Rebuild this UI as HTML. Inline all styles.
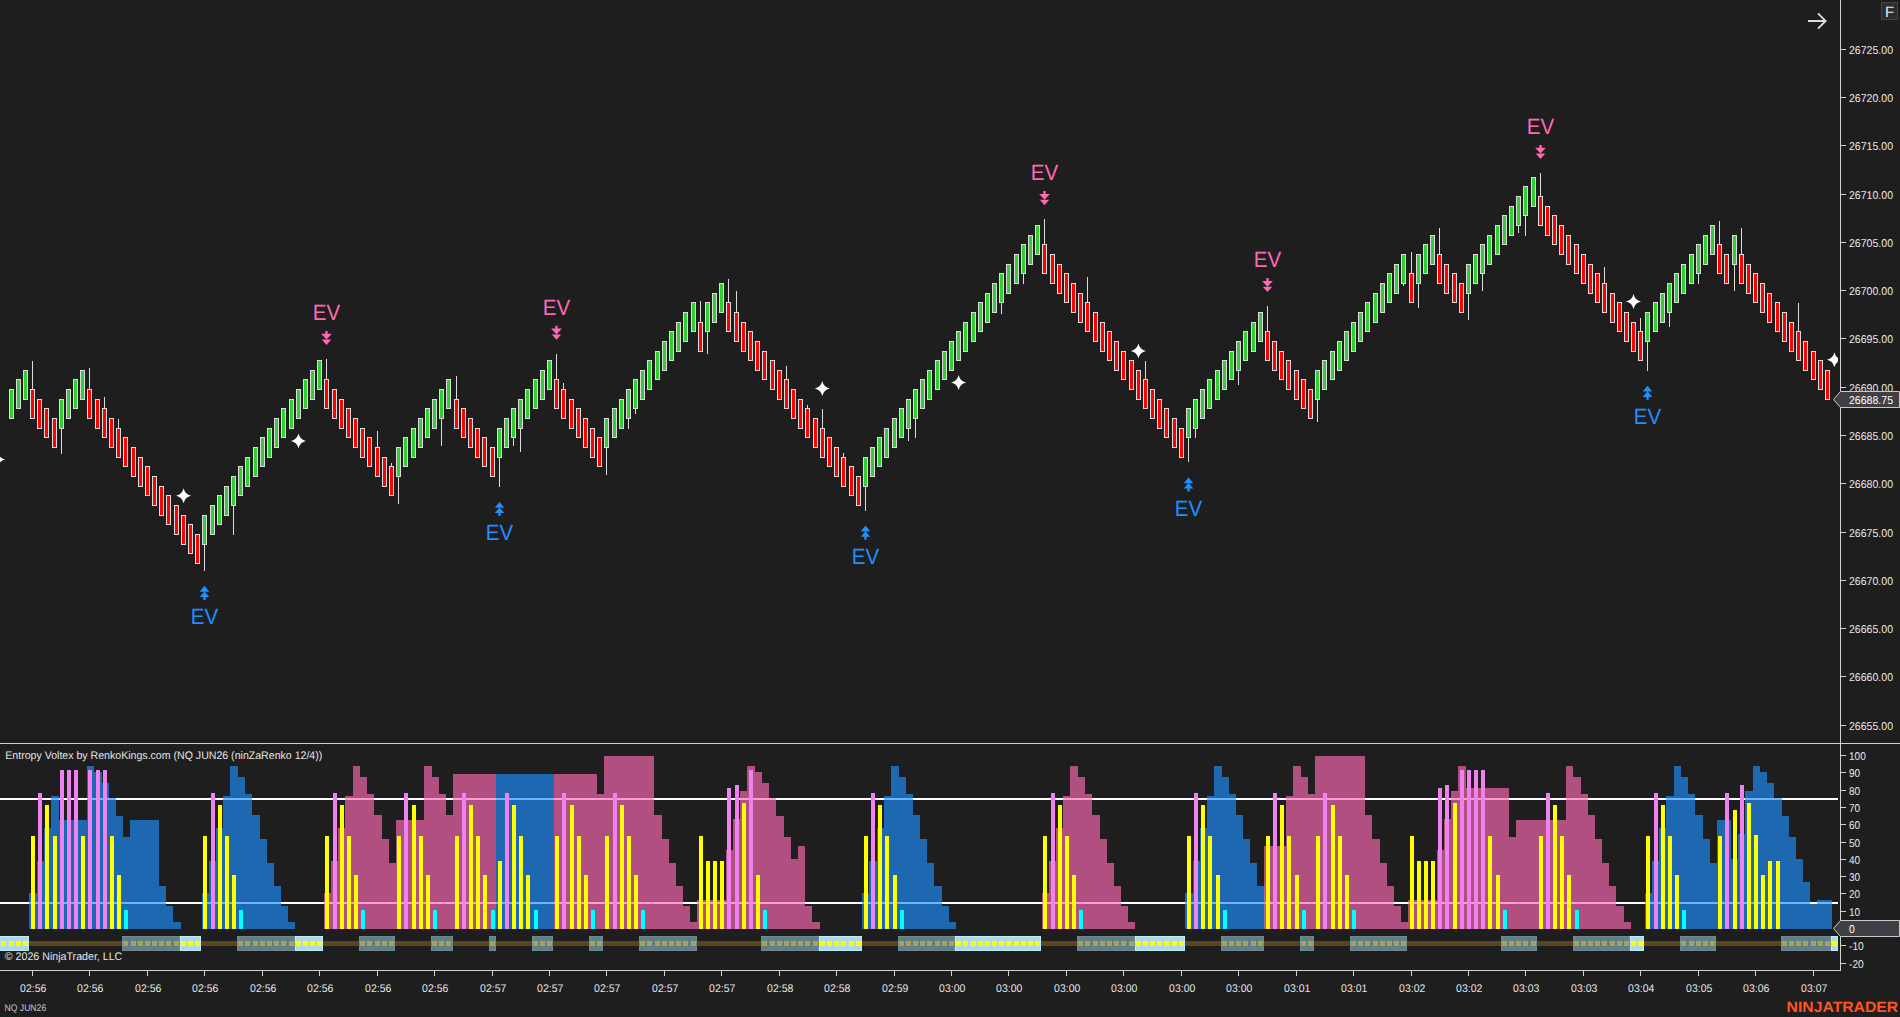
<!DOCTYPE html>
<html lang="en"><head><meta charset="utf-8"><title>NQ JUN26 - Entropy Voltex</title><style>html,body{margin:0;padding:0;background:#1e1e1e;overflow:hidden}svg{display:block}</style></head><body><svg width="1900" height="1017" viewBox="0 0 1900 1017" font-family='"Liberation Sans", sans-serif' shape-rendering="crispEdges" text-rendering="geometricPrecision"><rect x="0" y="0" width="1900" height="1017" fill="#1e1e1e"/>
<path d="M32 361h1v28h-1zM61 429h1v25h-1zM89 368h1v21h-1zM104 397h1v11h-1zM118 419h1v9h-1zM204 545h1v26h-1zM233 506h1v29h-1zM326 359h1v20h-1zM377 431h1v16h-1zM391 463h1v3h-1zM398 477h1v27h-1zM441 419h1v27h-1zM456 376h1v23h-1zM499 458h1v29h-1zM513 438h1v8h-1zM520 429h1v23h-1zM556 354h1v25h-1zM563 383h1v6h-1zM606 448h1v27h-1zM628 419h1v10h-1zM635 409h1v5h-1zM700 301h1v21h-1zM707 332h1v22h-1zM728 279h1v23h-1zM736 291h1v21h-1zM786 366h1v13h-1zM807 405h1v3h-1zM822 409h1v19h-1zM843 453h1v4h-1zM865 487h1v24h-1zM908 429h1v12h-1zM915 419h1v19h-1zM1001 303h1v11h-1zM1023 274h1v10h-1zM1044 219h1v25h-1zM1087 277h1v25h-1zM1145 361h1v18h-1zM1188 438h1v24h-1zM1195 429h1v9h-1zM1238 371h1v14h-1zM1267 306h1v25h-1zM1317 400h1v22h-1zM1403 284h1v2h-1zM1411 252h1v21h-1zM1418 284h1v24h-1zM1439 228h1v26h-1zM1468 294h1v26h-1zM1482 274h1v17h-1zM1518 226h1v7h-1zM1525 216h1v20h-1zM1540 173h1v23h-1zM1604 267h1v16h-1zM1640 318h1v13h-1zM1647 342h1v29h-1zM1669 313h1v14h-1zM1698 274h1v10h-1zM1719 221h1v23h-1zM1734 265h1v26h-1zM1741 228h1v26h-1zM1798 303h1v28h-1z" fill="#dcdcdc"/>
<path d="M9 389h5v30h-5zM16 379h5v30h-5zM23 370h5v30h-5zM30 389h5v30h-5zM37 399h5v30h-5zM44 408h5v30h-5zM52 418h5v30h-5zM59 399h5v30h-5zM66 389h5v30h-5zM73 379h5v30h-5zM80 370h5v30h-5zM87 389h5v30h-5zM95 399h5v30h-5zM102 408h5v30h-5zM109 418h5v30h-5zM116 428h5v30h-5zM123 437h5v30h-5zM131 447h5v30h-5zM138 457h5v30h-5zM145 466h5v30h-5zM152 476h5v30h-5zM159 486h5v30h-5zM166 495h5v30h-5zM174 505h5v30h-5zM181 515h5v30h-5zM188 524h5v30h-5zM195 534h5v30h-5zM202 515h5v30h-5zM210 505h5v30h-5zM217 495h5v30h-5zM224 486h5v30h-5zM231 476h5v30h-5zM238 466h5v30h-5zM245 457h5v30h-5zM253 447h5v30h-5zM260 437h5v30h-5zM267 428h5v30h-5zM274 418h5v30h-5zM281 408h5v30h-5zM289 399h5v30h-5zM296 389h5v30h-5zM303 379h5v30h-5zM310 370h5v30h-5zM317 360h5v30h-5zM324 379h5v30h-5zM332 389h5v30h-5zM339 399h5v30h-5zM346 408h5v30h-5zM353 418h5v30h-5zM360 428h5v30h-5zM367 437h5v30h-5zM375 447h5v30h-5zM382 457h5v30h-5zM389 466h5v30h-5zM396 447h5v30h-5zM403 437h5v30h-5zM411 428h5v30h-5zM418 418h5v30h-5zM425 408h5v30h-5zM432 399h5v30h-5zM439 389h5v30h-5zM446 379h5v30h-5zM454 399h5v30h-5zM461 408h5v30h-5zM468 418h5v30h-5zM475 428h5v30h-5zM482 437h5v30h-5zM490 447h5v30h-5zM497 428h5v30h-5zM504 418h5v30h-5zM511 408h5v30h-5zM518 399h5v30h-5zM525 389h5v30h-5zM533 379h5v30h-5zM540 370h5v30h-5zM547 360h5v30h-5zM554 379h5v30h-5zM561 389h5v30h-5zM569 399h5v30h-5zM576 408h5v30h-5zM583 418h5v30h-5zM590 428h5v30h-5zM597 437h5v30h-5zM604 418h5v30h-5zM612 408h5v30h-5zM619 399h5v30h-5zM626 389h5v30h-5zM633 379h5v30h-5zM640 370h5v30h-5zM647 360h5v30h-5zM655 351h5v29h-5zM662 341h5v30h-5zM669 331h5v30h-5zM676 322h5v30h-5zM683 312h5v30h-5zM691 302h5v30h-5zM698 322h5v30h-5zM705 302h5v30h-5zM712 293h5v30h-5zM719 283h5v30h-5zM726 302h5v30h-5zM734 312h5v30h-5zM741 322h5v30h-5zM748 331h5v30h-5zM755 341h5v30h-5zM762 351h5v29h-5zM770 360h5v30h-5zM777 370h5v30h-5zM784 379h5v30h-5zM791 389h5v30h-5zM798 399h5v30h-5zM805 408h5v30h-5zM813 418h5v30h-5zM820 428h5v30h-5zM827 437h5v30h-5zM834 447h5v30h-5zM841 457h5v30h-5zM849 466h5v30h-5zM856 476h5v30h-5zM863 457h5v30h-5zM870 447h5v30h-5zM877 437h5v30h-5zM884 428h5v30h-5zM892 418h5v30h-5zM899 408h5v30h-5zM906 399h5v30h-5zM913 389h5v30h-5zM920 379h5v30h-5zM927 370h5v30h-5zM935 360h5v30h-5zM942 351h5v29h-5zM949 341h5v30h-5zM956 331h5v30h-5zM963 322h5v30h-5zM971 312h5v30h-5zM978 302h5v30h-5zM985 293h5v30h-5zM992 283h5v30h-5zM999 273h5v30h-5zM1006 264h5v30h-5zM1014 254h5v30h-5zM1021 244h5v30h-5zM1028 235h5v30h-5zM1035 225h5v30h-5zM1042 244h5v30h-5zM1050 254h5v30h-5zM1057 264h5v30h-5zM1064 273h5v30h-5zM1071 283h5v30h-5zM1078 293h5v30h-5zM1085 302h5v30h-5zM1093 312h5v30h-5zM1100 322h5v30h-5zM1107 331h5v30h-5zM1114 341h5v30h-5zM1121 351h5v29h-5zM1129 360h5v30h-5zM1136 370h5v30h-5zM1143 379h5v30h-5zM1150 389h5v30h-5zM1157 399h5v30h-5zM1164 408h5v30h-5zM1172 418h5v30h-5zM1179 428h5v30h-5zM1186 408h5v30h-5zM1193 399h5v30h-5zM1200 389h5v30h-5zM1207 379h5v30h-5zM1215 370h5v30h-5zM1222 360h5v30h-5zM1229 351h5v29h-5zM1236 341h5v30h-5zM1243 331h5v30h-5zM1251 322h5v30h-5zM1258 312h5v30h-5zM1265 331h5v30h-5zM1272 341h5v30h-5zM1279 351h5v29h-5zM1286 360h5v30h-5zM1294 370h5v30h-5zM1301 379h5v30h-5zM1308 389h5v30h-5zM1315 370h5v30h-5zM1322 360h5v30h-5zM1330 351h5v29h-5zM1337 341h5v30h-5zM1344 331h5v30h-5zM1351 322h5v30h-5zM1358 312h5v30h-5zM1365 302h5v30h-5zM1373 293h5v30h-5zM1380 283h5v30h-5zM1387 273h5v30h-5zM1394 264h5v30h-5zM1401 254h5v30h-5zM1409 273h5v30h-5zM1416 254h5v30h-5zM1423 244h5v30h-5zM1430 235h5v30h-5zM1437 254h5v30h-5zM1444 264h5v30h-5zM1452 273h5v30h-5zM1459 283h5v30h-5zM1466 264h5v30h-5zM1473 254h5v30h-5zM1480 244h5v30h-5zM1487 235h5v30h-5zM1495 225h5v30h-5zM1502 215h5v30h-5zM1509 206h5v30h-5zM1516 196h5v30h-5zM1523 186h5v30h-5zM1531 177h5v30h-5zM1538 196h5v30h-5zM1545 206h5v30h-5zM1552 215h5v30h-5zM1559 225h5v30h-5zM1566 235h5v30h-5zM1574 244h5v30h-5zM1581 254h5v30h-5zM1588 264h5v30h-5zM1595 273h5v30h-5zM1602 283h5v30h-5zM1610 293h5v30h-5zM1617 302h5v30h-5zM1624 312h5v30h-5zM1631 322h5v30h-5zM1638 331h5v30h-5zM1645 312h5v30h-5zM1653 302h5v30h-5zM1660 293h5v30h-5zM1667 283h5v30h-5zM1674 273h5v30h-5zM1681 264h5v30h-5zM1689 254h5v30h-5zM1696 244h5v30h-5zM1703 235h5v30h-5zM1710 225h5v30h-5zM1717 244h5v30h-5zM1724 254h5v30h-5zM1732 235h5v30h-5zM1739 254h5v30h-5zM1746 264h5v30h-5zM1753 273h5v30h-5zM1760 283h5v30h-5zM1767 293h5v30h-5zM1775 302h5v30h-5zM1782 312h5v30h-5zM1789 322h5v30h-5zM1796 331h5v30h-5zM1803 341h5v30h-5zM1811 351h5v29h-5zM1818 360h5v30h-5zM1825 370h5v30h-5z" fill="#dcdcdc"/>
<path d="M10 390h3v28h-3zM17 380h3v28h-3zM24 371h3v28h-3zM60 400h3v28h-3zM67 390h3v28h-3zM74 380h3v28h-3zM81 371h3v28h-3zM203 516h3v28h-3zM211 506h3v28h-3zM218 496h3v28h-3zM225 487h3v28h-3zM232 477h3v28h-3zM239 467h3v28h-3zM246 458h3v28h-3zM254 448h3v28h-3zM261 438h3v28h-3zM268 429h3v28h-3zM275 419h3v28h-3zM282 409h3v28h-3zM290 400h3v28h-3zM297 390h3v28h-3zM304 380h3v28h-3zM311 371h3v28h-3zM318 361h3v28h-3zM397 448h3v28h-3zM404 438h3v28h-3zM412 429h3v28h-3zM419 419h3v28h-3zM426 409h3v28h-3zM433 400h3v28h-3zM440 390h3v28h-3zM447 380h3v28h-3zM498 429h3v28h-3zM505 419h3v28h-3zM512 409h3v28h-3zM519 400h3v28h-3zM526 390h3v28h-3zM534 380h3v28h-3zM541 371h3v28h-3zM548 361h3v28h-3zM605 419h3v28h-3zM613 409h3v28h-3zM620 400h3v28h-3zM627 390h3v28h-3zM634 380h3v28h-3zM641 371h3v28h-3zM648 361h3v28h-3zM656 352h3v27h-3zM663 342h3v28h-3zM670 332h3v28h-3zM677 323h3v28h-3zM684 313h3v28h-3zM692 303h3v28h-3zM706 303h3v28h-3zM713 294h3v28h-3zM720 284h3v28h-3zM864 458h3v28h-3zM871 448h3v28h-3zM878 438h3v28h-3zM885 429h3v28h-3zM893 419h3v28h-3zM900 409h3v28h-3zM907 400h3v28h-3zM914 390h3v28h-3zM921 380h3v28h-3zM928 371h3v28h-3zM936 361h3v28h-3zM943 352h3v27h-3zM950 342h3v28h-3zM957 332h3v28h-3zM964 323h3v28h-3zM972 313h3v28h-3zM979 303h3v28h-3zM986 294h3v28h-3zM993 284h3v28h-3zM1000 274h3v28h-3zM1007 265h3v28h-3zM1015 255h3v28h-3zM1022 245h3v28h-3zM1029 236h3v28h-3zM1036 226h3v28h-3zM1187 409h3v28h-3zM1194 400h3v28h-3zM1201 390h3v28h-3zM1208 380h3v28h-3zM1216 371h3v28h-3zM1223 361h3v28h-3zM1230 352h3v27h-3zM1237 342h3v28h-3zM1244 332h3v28h-3zM1252 323h3v28h-3zM1259 313h3v28h-3zM1316 371h3v28h-3zM1323 361h3v28h-3zM1331 352h3v27h-3zM1338 342h3v28h-3zM1345 332h3v28h-3zM1352 323h3v28h-3zM1359 313h3v28h-3zM1366 303h3v28h-3zM1374 294h3v28h-3zM1381 284h3v28h-3zM1388 274h3v28h-3zM1395 265h3v28h-3zM1402 255h3v28h-3zM1417 255h3v28h-3zM1424 245h3v28h-3zM1431 236h3v28h-3zM1467 265h3v28h-3zM1474 255h3v28h-3zM1481 245h3v28h-3zM1488 236h3v28h-3zM1496 226h3v28h-3zM1503 216h3v28h-3zM1510 207h3v28h-3zM1517 197h3v28h-3zM1524 187h3v28h-3zM1532 178h3v28h-3zM1646 313h3v28h-3zM1654 303h3v28h-3zM1661 294h3v28h-3zM1668 284h3v28h-3zM1675 274h3v28h-3zM1682 265h3v28h-3zM1690 255h3v28h-3zM1697 245h3v28h-3zM1704 236h3v28h-3zM1711 226h3v28h-3zM1733 236h3v28h-3z" fill="#32cd32"/>
<path d="M31 390h3v28h-3zM38 400h3v28h-3zM45 409h3v28h-3zM53 419h3v28h-3zM88 390h3v28h-3zM96 400h3v28h-3zM103 409h3v28h-3zM110 419h3v28h-3zM117 429h3v28h-3zM124 438h3v28h-3zM132 448h3v28h-3zM139 458h3v28h-3zM146 467h3v28h-3zM153 477h3v28h-3zM160 487h3v28h-3zM167 496h3v28h-3zM175 506h3v28h-3zM182 516h3v28h-3zM189 525h3v28h-3zM196 535h3v28h-3zM325 380h3v28h-3zM333 390h3v28h-3zM340 400h3v28h-3zM347 409h3v28h-3zM354 419h3v28h-3zM361 429h3v28h-3zM368 438h3v28h-3zM376 448h3v28h-3zM383 458h3v28h-3zM390 467h3v28h-3zM455 400h3v28h-3zM462 409h3v28h-3zM469 419h3v28h-3zM476 429h3v28h-3zM483 438h3v28h-3zM491 448h3v28h-3zM555 380h3v28h-3zM562 390h3v28h-3zM570 400h3v28h-3zM577 409h3v28h-3zM584 419h3v28h-3zM591 429h3v28h-3zM598 438h3v28h-3zM699 323h3v28h-3zM727 303h3v28h-3zM735 313h3v28h-3zM742 323h3v28h-3zM749 332h3v28h-3zM756 342h3v28h-3zM763 352h3v27h-3zM771 361h3v28h-3zM778 371h3v28h-3zM785 380h3v28h-3zM792 390h3v28h-3zM799 400h3v28h-3zM806 409h3v28h-3zM814 419h3v28h-3zM821 429h3v28h-3zM828 438h3v28h-3zM835 448h3v28h-3zM842 458h3v28h-3zM850 467h3v28h-3zM857 477h3v28h-3zM1043 245h3v28h-3zM1051 255h3v28h-3zM1058 265h3v28h-3zM1065 274h3v28h-3zM1072 284h3v28h-3zM1079 294h3v28h-3zM1086 303h3v28h-3zM1094 313h3v28h-3zM1101 323h3v28h-3zM1108 332h3v28h-3zM1115 342h3v28h-3zM1122 352h3v27h-3zM1130 361h3v28h-3zM1137 371h3v28h-3zM1144 380h3v28h-3zM1151 390h3v28h-3zM1158 400h3v28h-3zM1165 409h3v28h-3zM1173 419h3v28h-3zM1180 429h3v28h-3zM1266 332h3v28h-3zM1273 342h3v28h-3zM1280 352h3v27h-3zM1287 361h3v28h-3zM1295 371h3v28h-3zM1302 380h3v28h-3zM1309 390h3v28h-3zM1410 274h3v28h-3zM1438 255h3v28h-3zM1445 265h3v28h-3zM1453 274h3v28h-3zM1460 284h3v28h-3zM1539 197h3v28h-3zM1546 207h3v28h-3zM1553 216h3v28h-3zM1560 226h3v28h-3zM1567 236h3v28h-3zM1575 245h3v28h-3zM1582 255h3v28h-3zM1589 265h3v28h-3zM1596 274h3v28h-3zM1603 284h3v28h-3zM1611 294h3v28h-3zM1618 303h3v28h-3zM1625 313h3v28h-3zM1632 323h3v28h-3zM1639 332h3v28h-3zM1718 245h3v28h-3zM1725 255h3v28h-3zM1740 255h3v28h-3zM1747 265h3v28h-3zM1754 274h3v28h-3zM1761 284h3v28h-3zM1768 294h3v28h-3zM1776 303h3v28h-3zM1783 313h3v28h-3zM1790 323h3v28h-3zM1797 332h3v28h-3zM1804 342h3v28h-3zM1812 352h3v27h-3zM1819 361h3v28h-3zM1826 371h3v28h-3z" fill="#ff0000"/>
<clipPath id="cp"><rect x="0" y="0" width="1838" height="743"/></clipPath>
<path d="M-2.3 452.0Q-0.9 458.1 5.2 459.5Q-0.9 460.9 -2.3 467.0Q-3.6 460.9 -9.8 459.5Q-3.6 458.1 -2.3 452.0ZM183.6 488.3Q184.9 494.4 191.1 495.8Q184.9 497.2 183.6 503.3Q182.2 497.2 176.1 495.8Q182.2 494.4 183.6 488.3ZM298.5 433.5Q299.9 439.6 306.0 441.0Q299.9 442.4 298.5 448.5Q297.1 442.4 291.0 441.0Q297.1 439.6 298.5 433.5ZM822.3 381.1Q823.6 387.2 829.8 388.6Q823.6 390.0 822.3 396.1Q820.9 390.0 814.8 388.6Q820.9 387.2 822.3 381.1ZM958.6 375.1Q960.0 381.2 966.1 382.6Q960.0 384.0 958.6 390.1Q957.2 384.0 951.1 382.6Q957.2 381.2 958.6 375.1ZM1138.4 343.5Q1139.8 349.6 1145.9 351.0Q1139.8 352.4 1138.4 358.5Q1137.1 352.4 1130.9 351.0Q1137.1 349.6 1138.4 343.5ZM1633.5 294.1Q1634.8 300.2 1641.0 301.6Q1634.8 303.0 1633.5 309.1Q1632.2 303.0 1626.0 301.6Q1632.2 300.2 1633.5 294.1ZM1834.4 352.2Q1835.8 358.3 1841.9 359.7Q1835.8 361.1 1834.4 367.2Q1833.1 361.1 1826.9 359.7Q1833.1 358.3 1834.4 352.2Z" fill="#ffffff" clip-path="url(#cp)" shape-rendering="geometricPrecision"/>
<path d="M325.35 330.9h2.3v3.2h-2.3zM321.1 333.8h10.8l-5.4 5.8zM321.8 339.6h9.4l-4.7 5.4z" fill="#ff69b4" shape-rendering="geometricPrecision"/>
<text x="326.5" y="319.7" font-size="22" fill="#ff69b4" text-anchor="middle" textLength="27.4" lengthAdjust="spacingAndGlyphs">EV</text>
<path d="M555.35 325.7h2.3v3.2h-2.3zM551.1 328.6h10.8l-5.4 5.8zM551.8 334.4h9.4l-4.7 5.4z" fill="#ff69b4" shape-rendering="geometricPrecision"/>
<text x="556.5" y="314.5" font-size="22" fill="#ff69b4" text-anchor="middle" textLength="27.4" lengthAdjust="spacingAndGlyphs">EV</text>
<path d="M1043.35 191.1h2.3v3.2h-2.3zM1039.1 194.0h10.8l-5.4 5.8zM1039.8 199.8h9.4l-4.7 5.4z" fill="#ff69b4" shape-rendering="geometricPrecision"/>
<text x="1044.5" y="179.9" font-size="22" fill="#ff69b4" text-anchor="middle" textLength="27.4" lengthAdjust="spacingAndGlyphs">EV</text>
<path d="M1266.35 278.0h2.3v3.2h-2.3zM1262.1 280.9h10.8l-5.4 5.8zM1262.8 286.7h9.4l-4.7 5.4z" fill="#ff69b4" shape-rendering="geometricPrecision"/>
<text x="1267.5" y="266.8" font-size="22" fill="#ff69b4" text-anchor="middle" textLength="27.4" lengthAdjust="spacingAndGlyphs">EV</text>
<path d="M1539.35 144.9h2.3v3.2h-2.3zM1535.1 147.8h10.8l-5.4 5.8zM1535.8 153.6h9.4l-4.7 5.4z" fill="#ff69b4" shape-rendering="geometricPrecision"/>
<text x="1540.5" y="133.7" font-size="22" fill="#ff69b4" text-anchor="middle" textLength="27.4" lengthAdjust="spacingAndGlyphs">EV</text>
<path d="M204.5 585.8l4.8 5.9h-9.6zM204.5 591.4l4.8 5.6h-9.6zM203.35 596.8h2.3v3.1h-2.3z" fill="#1e90ff" shape-rendering="geometricPrecision"/>
<text x="204.5" y="624.0" font-size="22" fill="#1e90ff" text-anchor="middle" textLength="27.4" lengthAdjust="spacingAndGlyphs">EV</text>
<path d="M499.5 501.9l4.8 5.9h-9.6zM499.5 507.5l4.8 5.6h-9.6zM498.35 512.9h2.3v3.1h-2.3z" fill="#1e90ff" shape-rendering="geometricPrecision"/>
<text x="499.5" y="540.1" font-size="22" fill="#1e90ff" text-anchor="middle" textLength="27.4" lengthAdjust="spacingAndGlyphs">EV</text>
<path d="M865.5 525.6l4.8 5.9h-9.6zM865.5 531.2l4.8 5.6h-9.6zM864.35 536.6h2.3v3.1h-2.3z" fill="#1e90ff" shape-rendering="geometricPrecision"/>
<text x="865.5" y="563.8" font-size="22" fill="#1e90ff" text-anchor="middle" textLength="27.4" lengthAdjust="spacingAndGlyphs">EV</text>
<path d="M1188.5 477.4l4.8 5.9h-9.6zM1188.5 483.0l4.8 5.6h-9.6zM1187.35 488.4h2.3v3.1h-2.3z" fill="#1e90ff" shape-rendering="geometricPrecision"/>
<text x="1188.5" y="515.6" font-size="22" fill="#1e90ff" text-anchor="middle" textLength="27.4" lengthAdjust="spacingAndGlyphs">EV</text>
<path d="M1647.5 385.7l4.8 5.9h-9.6zM1647.5 391.3l4.8 5.6h-9.6zM1646.35 396.7h2.3v3.1h-2.3z" fill="#1e90ff" shape-rendering="geometricPrecision"/>
<text x="1647.5" y="423.9" font-size="22" fill="#1e90ff" text-anchor="middle" textLength="27.4" lengthAdjust="spacingAndGlyphs">EV</text>
<rect x="0" y="797.9" width="1838" height="2.3" fill="#ffffff"/>
<rect x="0" y="902.0" width="1838" height="2.3" fill="#ffffff"/>
<path d="M29.46 892.7H36.64V928.8H29.46zM36.64 860.7H43.82V928.8H36.64zM43.82 827.6H51.00V928.8H43.82zM51.00 796.0H58.50V928.8H51.00zM58.18 819.8H86.89V928.8H58.18zM86.89 765.7H94.39V928.8H86.89zM94.07 771.8H101.57V928.8H94.07zM101.25 782.8H108.75V928.8H101.25zM108.43 798.3H115.93V928.8H108.43zM115.61 815.8H123.11V928.8H115.61zM122.79 836.9H129.97V928.8H122.79zM129.97 819.8H159.01V928.8H129.97zM158.69 886.1H166.19V928.8H158.69zM165.87 906.1H173.37V928.8H165.87zM173.05 922.0H180.55V928.8H173.05zM201.77 892.7H208.95V928.8H201.77zM208.95 860.7H216.13V928.8H208.95zM216.13 827.6H223.31V928.8H216.13zM223.31 796.0H230.48V928.8H223.31zM230.48 765.7H237.98V928.8H230.48zM237.66 777.0H245.16V928.8H237.66zM244.84 793.9H252.34V928.8H244.84zM252.02 814.8H259.52V928.8H252.02zM259.20 839.0H266.70V928.8H259.20zM266.38 862.7H273.88V928.8H266.38zM273.56 886.1H281.06V928.8H273.56zM280.74 906.1H288.24V928.8H280.74zM287.92 922.0H295.42V928.8H287.92zM496.13 773.9H553.88V928.8H496.13zM862.28 892.7H869.46V928.8H862.28zM869.46 860.7H876.64V928.8H869.46zM876.64 827.6H883.82V928.8H876.64zM883.82 796.0H891.00V928.8H883.82zM891.00 765.7H898.50V928.8H891.00zM898.18 777.0H905.68V928.8H898.18zM905.36 793.9H912.86V928.8H905.36zM912.54 814.8H920.04V928.8H912.54zM919.72 839.0H927.22V928.8H919.72zM926.90 862.7H934.40V928.8H926.90zM934.08 886.1H941.58V928.8H934.08zM941.25 906.1H948.75V928.8H941.25zM948.43 922.0H955.93V928.8H948.43zM1185.36 892.7H1192.54V928.8H1185.36zM1192.54 860.7H1199.72V928.8H1192.54zM1199.72 827.6H1206.90V928.8H1199.72zM1206.90 796.0H1214.08V928.8H1206.90zM1214.08 765.7H1221.58V928.8H1214.08zM1221.26 777.0H1228.76V928.8H1221.26zM1228.44 793.9H1235.94V928.8H1228.44zM1235.61 814.8H1243.11V928.8H1235.61zM1242.79 839.0H1250.29V928.8H1242.79zM1249.97 862.7H1257.47V928.8H1249.97zM1257.15 886.1H1264.65V928.8H1257.15zM1644.85 892.7H1652.03V928.8H1644.85zM1652.03 860.7H1659.21V928.8H1652.03zM1659.21 827.6H1666.38V928.8H1659.21zM1666.38 796.0H1673.56V928.8H1666.38zM1673.56 765.7H1681.06V928.8H1673.56zM1680.74 777.0H1688.24V928.8H1680.74zM1687.92 793.9H1695.42V928.8H1687.92zM1695.10 814.8H1702.60V928.8H1695.10zM1702.28 839.0H1709.78V928.8H1702.28zM1709.46 862.7H1716.64V928.8H1709.46zM1716.64 819.8H1731.32V928.8H1716.64zM1731.00 858.6H1738.18V928.8H1731.00zM1738.18 833.8H1745.36V928.8H1738.18zM1745.36 790.8H1752.54V928.8H1745.36zM1752.54 765.7H1760.04V928.8H1752.54zM1759.72 771.8H1767.22V928.8H1759.72zM1766.90 782.8H1774.40V928.8H1766.90zM1774.08 798.3H1781.58V928.8H1774.08zM1781.26 815.8H1788.76V928.8H1781.26zM1788.44 836.9H1795.94V928.8H1788.44zM1795.62 858.6H1803.12V928.8H1795.62zM1802.80 881.7H1810.30V928.8H1802.80zM1809.97 903.6H1817.15V928.8H1809.97zM1817.15 899.9H1831.83V928.8H1817.15z" fill="#1e90ff" fill-opacity="0.655"/>
<path d="M323.82 892.7H331.00V928.8H323.82zM331.00 860.7H338.18V928.8H331.00zM338.18 827.6H345.36V928.8H338.18zM345.36 796.0H352.54V928.8H345.36zM352.54 765.7H360.04V928.8H352.54zM359.72 777.0H367.22V928.8H359.72zM366.89 793.9H374.39V928.8H366.89zM374.07 814.8H381.57V928.8H374.07zM381.25 839.0H388.75V928.8H381.25zM388.43 862.7H395.61V928.8H388.43zM395.61 819.8H424.33V928.8H395.61zM424.33 765.7H431.83V928.8H424.33zM431.51 777.0H439.01V928.8H431.51zM438.69 793.9H446.19V928.8H438.69zM445.87 814.8H453.05V928.8H445.87zM453.05 773.9H496.45V928.8H453.05zM553.56 773.9H596.96V928.8H553.56zM596.64 793.9H603.82V928.8H596.64zM603.82 755.9H654.40V928.8H603.82zM654.07 814.8H661.57V928.8H654.07zM661.25 839.0H668.75V928.8H661.25zM668.43 862.7H675.93V928.8H668.43zM675.61 886.1H683.11V928.8H675.61zM682.79 906.1H690.29V928.8H682.79zM689.97 922.0H697.15V928.8H689.97zM697.15 899.9H725.87V928.8H697.15zM725.87 849.9H733.05V928.8H725.87zM733.05 818.9H740.23V928.8H733.05zM740.23 790.8H747.41V928.8H740.23zM747.41 765.7H754.91V928.8H747.41zM754.59 771.8H762.09V928.8H754.59zM761.77 782.8H769.27V928.8H761.77zM768.95 798.3H776.45V928.8H768.95zM776.13 815.8H783.63V928.8H776.13zM783.31 836.9H790.81V928.8H783.31zM790.49 858.6H797.66V928.8H790.49zM797.66 845.8H805.16V928.8H797.66zM804.84 906.1H812.34V928.8H804.84zM812.02 922.0H819.52V928.8H812.02zM1041.77 892.7H1048.95V928.8H1041.77zM1048.95 860.7H1056.13V928.8H1048.95zM1056.13 827.6H1063.31V928.8H1056.13zM1063.31 796.0H1070.49V928.8H1063.31zM1070.49 765.7H1077.99V928.8H1070.49zM1077.67 777.0H1085.17V928.8H1077.67zM1084.85 793.9H1092.35V928.8H1084.85zM1092.02 814.8H1099.52V928.8H1092.02zM1099.20 839.0H1106.70V928.8H1099.20zM1106.38 862.7H1113.88V928.8H1106.38zM1113.56 886.1H1121.06V928.8H1113.56zM1120.74 906.1H1128.24V928.8H1120.74zM1127.92 922.0H1135.42V928.8H1127.92zM1264.33 845.8H1285.87V928.8H1264.33zM1285.87 796.0H1293.05V928.8H1285.87zM1293.05 765.7H1300.55V928.8H1293.05zM1300.23 777.0H1307.73V928.8H1300.23zM1307.41 793.9H1314.59V928.8H1307.41zM1314.59 755.9H1365.17V928.8H1314.59zM1364.85 814.8H1372.35V928.8H1364.85zM1372.03 839.0H1379.53V928.8H1372.03zM1379.20 862.7H1386.70V928.8H1379.20zM1386.38 886.1H1393.88V928.8H1386.38zM1393.56 906.1H1401.06V928.8H1393.56zM1400.74 922.0H1407.92V928.8H1400.74zM1407.92 899.9H1436.64V928.8H1407.92zM1436.64 849.9H1443.82V928.8H1436.64zM1443.82 818.9H1451.00V928.8H1443.82zM1451.00 790.8H1458.18V928.8H1451.00zM1458.18 765.7H1465.68V928.8H1458.18zM1465.36 787.8H1508.76V928.8H1465.36zM1508.44 836.9H1515.62V928.8H1508.44zM1515.62 819.8H1565.87V928.8H1515.62zM1565.87 765.7H1573.37V928.8H1565.87zM1573.05 777.0H1580.55V928.8H1573.05zM1580.23 793.9H1587.73V928.8H1580.23zM1587.41 814.8H1594.91V928.8H1587.41zM1594.59 839.0H1602.09V928.8H1594.59zM1601.77 862.7H1609.27V928.8H1601.77zM1608.95 886.1H1616.45V928.8H1608.95zM1616.13 906.1H1623.63V928.8H1616.13zM1623.31 922.0H1630.81V928.8H1623.31z" fill="#ff69b4" fill-opacity="0.655"/>
<path d="M31 835.9h4V928.8h-4zM45 804.9h4V928.8h-4zM53 835.9h4V928.8h-4zM81 835.9h4V928.8h-4zM110 835.9h4V928.8h-4zM117 874.7h4V928.8h-4zM203 835.9h4V928.8h-4zM218 804.9h4V928.8h-4zM225 835.9h4V928.8h-4zM232 874.7h4V928.8h-4zM325 835.9h4V928.8h-4zM340 804.9h4V928.8h-4zM347 835.9h4V928.8h-4zM354 874.7h4V928.8h-4zM397 835.9h4V928.8h-4zM412 804.9h4V928.8h-4zM419 835.9h4V928.8h-4zM426 874.7h4V928.8h-4zM455 835.9h4V928.8h-4zM469 804.9h4V928.8h-4zM476 835.9h4V928.8h-4zM483 874.7h4V928.8h-4zM555 835.9h4V928.8h-4zM570 804.9h4V928.8h-4zM577 835.9h4V928.8h-4zM584 874.7h4V928.8h-4zM605 835.9h4V928.8h-4zM620 804.9h4V928.8h-4zM627 835.9h4V928.8h-4zM634 874.7h4V928.8h-4zM864 835.9h4V928.8h-4zM878 804.9h4V928.8h-4zM885 835.9h4V928.8h-4zM893 874.7h4V928.8h-4zM1043 835.9h4V928.8h-4zM1058 804.9h4V928.8h-4zM1065 835.9h4V928.8h-4zM1072 874.7h4V928.8h-4zM1187 835.9h4V928.8h-4zM1201 804.9h4V928.8h-4zM1208 835.9h4V928.8h-4zM1216 874.7h4V928.8h-4zM1266 835.9h4V928.8h-4zM1280 804.9h4V928.8h-4zM1287 835.9h4V928.8h-4zM1295 874.7h4V928.8h-4zM1316 835.9h4V928.8h-4zM1331 804.9h4V928.8h-4zM1338 835.9h4V928.8h-4zM1345 874.7h4V928.8h-4zM1539 835.9h4V928.8h-4zM1553 804.9h4V928.8h-4zM1560 835.9h4V928.8h-4zM1567 874.7h4V928.8h-4zM1646 835.9h4V928.8h-4zM1661 804.9h4V928.8h-4zM1668 835.9h4V928.8h-4zM1675 874.7h4V928.8h-4zM498 861.1h4V928.8h-4zM512 804.9h4V928.8h-4zM519 835.9h4V928.8h-4zM526 874.7h4V928.8h-4zM699 835.9h4V928.8h-4zM706 861.1h4V928.8h-4zM713 861.1h4V928.8h-4zM720 861.1h4V928.8h-4zM742 803.2h4V928.8h-4zM756 874.7h4V928.8h-4zM1410 835.9h4V928.8h-4zM1417 861.1h4V928.8h-4zM1424 861.1h4V928.8h-4zM1431 861.1h4V928.8h-4zM1453 803.2h4V928.8h-4zM1488 835.9h4V928.8h-4zM1496 874.7h4V928.8h-4zM1718 835.9h4V928.8h-4zM1733 810.1h4V928.8h-4zM1747 803.2h4V928.8h-4zM1754 834.8h4V928.8h-4zM1761 874.7h4V928.8h-4zM1768 861.1h4V928.8h-4zM1776 861.1h4V928.8h-4z" fill="#ffff00"/>
<path d="M38 792.9h4V928.8h-4zM60 770.2h4V928.8h-4zM67 770.2h4V928.8h-4zM74 770.2h4V928.8h-4zM88 770.2h4V928.8h-4zM96 770.2h4V928.8h-4zM103 770.2h4V928.8h-4zM211 792.9h4V928.8h-4zM333 792.9h4V928.8h-4zM404 792.9h4V928.8h-4zM462 792.9h4V928.8h-4zM562 792.9h4V928.8h-4zM613 792.9h4V928.8h-4zM871 792.9h4V928.8h-4zM1051 792.9h4V928.8h-4zM1194 792.9h4V928.8h-4zM1273 792.9h4V928.8h-4zM1323 792.9h4V928.8h-4zM1546 792.9h4V928.8h-4zM1654 792.9h4V928.8h-4zM505 792.9h4V928.8h-4zM727 788.0h4V928.8h-4zM735 785.3h4V928.8h-4zM749 770.2h4V928.8h-4zM1438 788.0h4V928.8h-4zM1445 785.3h4V928.8h-4zM1460 770.2h4V928.8h-4zM1467 770.2h4V928.8h-4zM1474 770.2h4V928.8h-4zM1481 770.2h4V928.8h-4zM1725 792.9h4V928.8h-4zM1740 784.9h4V928.8h-4z" fill="#ee82ee"/>
<path d="M124 909.8h4V928.8h-4zM239 909.8h4V928.8h-4zM361 909.8h4V928.8h-4zM433 909.8h4V928.8h-4zM491 909.8h4V928.8h-4zM591 909.8h4V928.8h-4zM641 909.8h4V928.8h-4zM900 909.8h4V928.8h-4zM1079 909.8h4V928.8h-4zM1223 909.8h4V928.8h-4zM1302 909.8h4V928.8h-4zM1352 909.8h4V928.8h-4zM1575 909.8h4V928.8h-4zM1682 909.8h4V928.8h-4zM534 909.8h4V928.8h-4zM763 909.8h4V928.8h-4zM1503 909.8h4V928.8h-4z" fill="#00ffff"/>
<rect x="0" y="941" width="1838" height="5.3" fill="#584620"/>
<g clip-path="url(#cp2)">
<clipPath id="cp2"><rect x="0" y="930" width="1838" height="30"/></clipPath>
<path d="M122.39 936H179.75V951H122.39zM237.26 936H294.62V951H237.26zM359.32 936H395.13V951H359.32zM431.11 936H452.57V951H431.11zM488.55 936H495.65V951H488.55zM531.62 936H553.08V951H531.62zM589.06 936H603.34V951H589.06zM639.32 936H696.67V951H639.32zM761.37 936H818.72V951H761.37zM897.78 936H955.13V951H897.78zM1077.27 936H1134.62V951H1077.27zM1220.86 936H1263.85V951H1220.86zM1299.83 936H1314.11V951H1299.83zM1350.09 936H1407.44V951H1350.09zM1500.86 936H1536.67V951H1500.86zM1572.65 936H1630.01V951H1572.65zM1680.34 936H1716.16V951H1680.34zM1780.86 936H1831.03V951H1780.86z" fill="#6f8a93"/>
<path d="M-6.84 936H28.98V951H-6.84zM179.83 936H201.29V951H179.83zM294.70 936H323.34V951H294.70zM818.80 936H861.80V951H818.80zM955.21 936H1041.29V951H955.21zM1134.70 936H1184.88V951H1134.70zM1630.09 936H1644.37V951H1630.09zM1831.11 936H1838.21V951H1831.11z" fill="#bcebfb"/>
<path d="M123.39 937H178.75V950H123.39zM238.26 937H293.62V950H238.26zM360.32 937H394.13V950H360.32zM432.11 937H451.57V950H432.11zM489.55 937H494.65V950H489.55zM532.62 937H552.08V950H532.62zM590.06 937H602.34V950H590.06zM640.32 937H695.67V950H640.32zM762.37 937H817.72V950H762.37zM898.78 937H954.13V950H898.78zM1078.27 937H1133.62V950H1078.27zM1221.86 937H1262.85V950H1221.86zM1300.83 937H1313.11V950H1300.83zM1351.09 937H1406.44V950H1351.09zM1501.86 937H1535.67V950H1501.86zM1573.65 937H1629.01V950H1573.65zM1681.34 937H1715.16V950H1681.34zM1781.86 937H1830.03V950H1781.86z" fill="#657d85"/>
<path d="M-5.84 937H27.98V950H-5.84zM180.83 937H200.29V950H180.83zM295.70 937H322.34V950H295.70zM819.80 937H860.80V950H819.80zM956.21 937H1040.29V950H956.21zM1135.70 937H1183.88V950H1135.70zM1631.09 937H1643.37V950H1631.09zM1832.11 937H1837.21V950H1832.11z" fill="#add8e6"/>
<path d="M123 941h5v5h-5zM131 941h5v5h-5zM138 941h5v5h-5zM145 941h5v5h-5zM152 941h5v5h-5zM159 941h5v5h-5zM166 941h5v5h-5zM174 941h5v5h-5zM238 941h5v5h-5zM245 941h5v5h-5zM253 941h5v5h-5zM260 941h5v5h-5zM267 941h5v5h-5zM274 941h5v5h-5zM281 941h5v5h-5zM289 941h5v5h-5zM360 941h5v5h-5zM367 941h5v5h-5zM375 941h5v5h-5zM382 941h5v5h-5zM389 941h5v5h-5zM432 941h5v5h-5zM439 941h5v5h-5zM446 941h5v5h-5zM490 941h5v5h-5zM533 941h5v5h-5zM540 941h5v5h-5zM547 941h5v5h-5zM590 941h5v5h-5zM597 941h5v5h-5zM640 941h5v5h-5zM647 941h5v5h-5zM655 941h5v5h-5zM662 941h5v5h-5zM669 941h5v5h-5zM676 941h5v5h-5zM683 941h5v5h-5zM691 941h5v5h-5zM762 941h5v5h-5zM770 941h5v5h-5zM777 941h5v5h-5zM784 941h5v5h-5zM791 941h5v5h-5zM798 941h5v5h-5zM805 941h5v5h-5zM813 941h5v5h-5zM899 941h5v5h-5zM906 941h5v5h-5zM913 941h5v5h-5zM920 941h5v5h-5zM927 941h5v5h-5zM935 941h5v5h-5zM942 941h5v5h-5zM949 941h5v5h-5zM1078 941h5v5h-5zM1085 941h5v5h-5zM1093 941h5v5h-5zM1100 941h5v5h-5zM1107 941h5v5h-5zM1114 941h5v5h-5zM1121 941h5v5h-5zM1129 941h5v5h-5zM1222 941h5v5h-5zM1229 941h5v5h-5zM1236 941h5v5h-5zM1243 941h5v5h-5zM1251 941h5v5h-5zM1258 941h5v5h-5zM1301 941h5v5h-5zM1308 941h5v5h-5zM1351 941h5v5h-5zM1358 941h5v5h-5zM1365 941h5v5h-5zM1373 941h5v5h-5zM1380 941h5v5h-5zM1387 941h5v5h-5zM1394 941h5v5h-5zM1401 941h5v5h-5zM1502 941h5v5h-5zM1509 941h5v5h-5zM1516 941h5v5h-5zM1523 941h5v5h-5zM1531 941h5v5h-5zM1574 941h5v5h-5zM1581 941h5v5h-5zM1588 941h5v5h-5zM1595 941h5v5h-5zM1602 941h5v5h-5zM1610 941h5v5h-5zM1617 941h5v5h-5zM1624 941h5v5h-5zM1681 941h5v5h-5zM1689 941h5v5h-5zM1696 941h5v5h-5zM1703 941h5v5h-5zM1710 941h5v5h-5zM1782 941h5v5h-5zM1789 941h5v5h-5zM1796 941h5v5h-5zM1803 941h5v5h-5zM1811 941h5v5h-5zM1818 941h5v5h-5zM1825 941h5v5h-5z" fill="#9ca65c"/>
<path d="M-6 941h5v5h-5zM1 941h5v5h-5zM9 941h5v5h-5zM16 941h5v5h-5zM23 941h5v5h-5zM181 941h5v5h-5zM188 941h5v5h-5zM195 941h5v5h-5zM296 941h5v5h-5zM303 941h5v5h-5zM310 941h5v5h-5zM317 941h5v5h-5zM820 941h5v5h-5zM827 941h5v5h-5zM834 941h5v5h-5zM841 941h5v5h-5zM849 941h5v5h-5zM856 941h5v5h-5zM956 941h5v5h-5zM963 941h5v5h-5zM971 941h5v5h-5zM978 941h5v5h-5zM985 941h5v5h-5zM992 941h5v5h-5zM999 941h5v5h-5zM1006 941h5v5h-5zM1014 941h5v5h-5zM1021 941h5v5h-5zM1028 941h5v5h-5zM1035 941h5v5h-5zM1136 941h5v5h-5zM1143 941h5v5h-5zM1150 941h5v5h-5zM1157 941h5v5h-5zM1164 941h5v5h-5zM1172 941h5v5h-5zM1179 941h5v5h-5zM1631 941h5v5h-5zM1638 941h5v5h-5zM1832 941h5v5h-5z" fill="#ffff00"/>
</g>
<rect x="0" y="743" width="1900" height="1" fill="#d2d2d2"/>
<rect x="1840" y="0" width="1" height="971" fill="#d2d2d2"/>
<rect x="0" y="970" width="1841" height="1" fill="#d2d2d2"/>
<text x="1849" y="54.0" font-size="11.3" fill="#e6e6e6" textLength="44" lengthAdjust="spacingAndGlyphs">26725.00</text>
<text x="1849" y="102.0" font-size="11.3" fill="#e6e6e6" textLength="44" lengthAdjust="spacingAndGlyphs">26720.00</text>
<text x="1849" y="150.0" font-size="11.3" fill="#e6e6e6" textLength="44" lengthAdjust="spacingAndGlyphs">26715.00</text>
<text x="1849" y="199.0" font-size="11.3" fill="#e6e6e6" textLength="44" lengthAdjust="spacingAndGlyphs">26710.00</text>
<text x="1849" y="247.0" font-size="11.3" fill="#e6e6e6" textLength="44" lengthAdjust="spacingAndGlyphs">26705.00</text>
<text x="1849" y="295.0" font-size="11.3" fill="#e6e6e6" textLength="44" lengthAdjust="spacingAndGlyphs">26700.00</text>
<text x="1849" y="343.0" font-size="11.3" fill="#e6e6e6" textLength="44" lengthAdjust="spacingAndGlyphs">26695.00</text>
<text x="1849" y="392.0" font-size="11.3" fill="#e6e6e6" textLength="44" lengthAdjust="spacingAndGlyphs">26690.00</text>
<text x="1849" y="440.0" font-size="11.3" fill="#e6e6e6" textLength="44" lengthAdjust="spacingAndGlyphs">26685.00</text>
<text x="1849" y="488.0" font-size="11.3" fill="#e6e6e6" textLength="44" lengthAdjust="spacingAndGlyphs">26680.00</text>
<text x="1849" y="537.0" font-size="11.3" fill="#e6e6e6" textLength="44" lengthAdjust="spacingAndGlyphs">26675.00</text>
<text x="1849" y="585.0" font-size="11.3" fill="#e6e6e6" textLength="44" lengthAdjust="spacingAndGlyphs">26670.00</text>
<text x="1849" y="633.0" font-size="11.3" fill="#e6e6e6" textLength="44" lengthAdjust="spacingAndGlyphs">26665.00</text>
<text x="1849" y="681.0" font-size="11.3" fill="#e6e6e6" textLength="44" lengthAdjust="spacingAndGlyphs">26660.00</text>
<text x="1849" y="730.0" font-size="11.3" fill="#e6e6e6" textLength="44" lengthAdjust="spacingAndGlyphs">26655.00</text>
<text x="1849" y="968.0" font-size="11.3" fill="#e6e6e6" textLength="14.799999999999999" lengthAdjust="spacingAndGlyphs">-20</text>
<text x="1849" y="950.0" font-size="11.3" fill="#e6e6e6" textLength="14.799999999999999" lengthAdjust="spacingAndGlyphs">-10</text>
<text x="1849" y="916.0" font-size="11.3" fill="#e6e6e6" textLength="11.2" lengthAdjust="spacingAndGlyphs">10</text>
<text x="1849" y="898.0" font-size="11.3" fill="#e6e6e6" textLength="11.2" lengthAdjust="spacingAndGlyphs">20</text>
<text x="1849" y="881.0" font-size="11.3" fill="#e6e6e6" textLength="11.2" lengthAdjust="spacingAndGlyphs">30</text>
<text x="1849" y="864.0" font-size="11.3" fill="#e6e6e6" textLength="11.2" lengthAdjust="spacingAndGlyphs">40</text>
<text x="1849" y="847.0" font-size="11.3" fill="#e6e6e6" textLength="11.2" lengthAdjust="spacingAndGlyphs">50</text>
<text x="1849" y="829.0" font-size="11.3" fill="#e6e6e6" textLength="11.2" lengthAdjust="spacingAndGlyphs">60</text>
<text x="1849" y="812.0" font-size="11.3" fill="#e6e6e6" textLength="11.2" lengthAdjust="spacingAndGlyphs">70</text>
<text x="1849" y="795.0" font-size="11.3" fill="#e6e6e6" textLength="11.2" lengthAdjust="spacingAndGlyphs">80</text>
<text x="1849" y="777.0" font-size="11.3" fill="#e6e6e6" textLength="11.2" lengthAdjust="spacingAndGlyphs">90</text>
<text x="1849" y="760.0" font-size="11.3" fill="#e6e6e6" textLength="16.799999999999997" lengthAdjust="spacingAndGlyphs">100</text>
<text x="33.2" y="992" font-size="11" fill="#e6e6e6" text-anchor="middle" textLength="26.2" lengthAdjust="spacingAndGlyphs">02:56</text>
<text x="90.2" y="992" font-size="11" fill="#e6e6e6" text-anchor="middle" textLength="26.2" lengthAdjust="spacingAndGlyphs">02:56</text>
<text x="148.2" y="992" font-size="11" fill="#e6e6e6" text-anchor="middle" textLength="26.2" lengthAdjust="spacingAndGlyphs">02:56</text>
<text x="205.2" y="992" font-size="11" fill="#e6e6e6" text-anchor="middle" textLength="26.2" lengthAdjust="spacingAndGlyphs">02:56</text>
<text x="263.2" y="992" font-size="11" fill="#e6e6e6" text-anchor="middle" textLength="26.2" lengthAdjust="spacingAndGlyphs">02:56</text>
<text x="320.2" y="992" font-size="11" fill="#e6e6e6" text-anchor="middle" textLength="26.2" lengthAdjust="spacingAndGlyphs">02:56</text>
<text x="378.2" y="992" font-size="11" fill="#e6e6e6" text-anchor="middle" textLength="26.2" lengthAdjust="spacingAndGlyphs">02:56</text>
<text x="435.2" y="992" font-size="11" fill="#e6e6e6" text-anchor="middle" textLength="26.2" lengthAdjust="spacingAndGlyphs">02:56</text>
<text x="493.2" y="992" font-size="11" fill="#e6e6e6" text-anchor="middle" textLength="26.2" lengthAdjust="spacingAndGlyphs">02:57</text>
<text x="550.2" y="992" font-size="11" fill="#e6e6e6" text-anchor="middle" textLength="26.2" lengthAdjust="spacingAndGlyphs">02:57</text>
<text x="607.2" y="992" font-size="11" fill="#e6e6e6" text-anchor="middle" textLength="26.2" lengthAdjust="spacingAndGlyphs">02:57</text>
<text x="665.2" y="992" font-size="11" fill="#e6e6e6" text-anchor="middle" textLength="26.2" lengthAdjust="spacingAndGlyphs">02:57</text>
<text x="722.2" y="992" font-size="11" fill="#e6e6e6" text-anchor="middle" textLength="26.2" lengthAdjust="spacingAndGlyphs">02:57</text>
<text x="780.2" y="992" font-size="11" fill="#e6e6e6" text-anchor="middle" textLength="26.2" lengthAdjust="spacingAndGlyphs">02:58</text>
<text x="837.2" y="992" font-size="11" fill="#e6e6e6" text-anchor="middle" textLength="26.2" lengthAdjust="spacingAndGlyphs">02:58</text>
<text x="895.2" y="992" font-size="11" fill="#e6e6e6" text-anchor="middle" textLength="26.2" lengthAdjust="spacingAndGlyphs">02:59</text>
<text x="952.2" y="992" font-size="11" fill="#e6e6e6" text-anchor="middle" textLength="26.2" lengthAdjust="spacingAndGlyphs">03:00</text>
<text x="1009.2" y="992" font-size="11" fill="#e6e6e6" text-anchor="middle" textLength="26.2" lengthAdjust="spacingAndGlyphs">03:00</text>
<text x="1067.2" y="992" font-size="11" fill="#e6e6e6" text-anchor="middle" textLength="26.2" lengthAdjust="spacingAndGlyphs">03:00</text>
<text x="1124.2" y="992" font-size="11" fill="#e6e6e6" text-anchor="middle" textLength="26.2" lengthAdjust="spacingAndGlyphs">03:00</text>
<text x="1182.2" y="992" font-size="11" fill="#e6e6e6" text-anchor="middle" textLength="26.2" lengthAdjust="spacingAndGlyphs">03:00</text>
<text x="1239.2" y="992" font-size="11" fill="#e6e6e6" text-anchor="middle" textLength="26.2" lengthAdjust="spacingAndGlyphs">03:00</text>
<text x="1297.2" y="992" font-size="11" fill="#e6e6e6" text-anchor="middle" textLength="26.2" lengthAdjust="spacingAndGlyphs">03:01</text>
<text x="1354.2" y="992" font-size="11" fill="#e6e6e6" text-anchor="middle" textLength="26.2" lengthAdjust="spacingAndGlyphs">03:01</text>
<text x="1412.2" y="992" font-size="11" fill="#e6e6e6" text-anchor="middle" textLength="26.2" lengthAdjust="spacingAndGlyphs">03:02</text>
<text x="1469.2" y="992" font-size="11" fill="#e6e6e6" text-anchor="middle" textLength="26.2" lengthAdjust="spacingAndGlyphs">03:02</text>
<text x="1526.2" y="992" font-size="11" fill="#e6e6e6" text-anchor="middle" textLength="26.2" lengthAdjust="spacingAndGlyphs">03:03</text>
<text x="1584.2" y="992" font-size="11" fill="#e6e6e6" text-anchor="middle" textLength="26.2" lengthAdjust="spacingAndGlyphs">03:03</text>
<text x="1641.2" y="992" font-size="11" fill="#e6e6e6" text-anchor="middle" textLength="26.2" lengthAdjust="spacingAndGlyphs">03:04</text>
<text x="1699.2" y="992" font-size="11" fill="#e6e6e6" text-anchor="middle" textLength="26.2" lengthAdjust="spacingAndGlyphs">03:05</text>
<text x="1756.2" y="992" font-size="11" fill="#e6e6e6" text-anchor="middle" textLength="26.2" lengthAdjust="spacingAndGlyphs">03:06</text>
<text x="1814.2" y="992" font-size="11" fill="#e6e6e6" text-anchor="middle" textLength="26.2" lengthAdjust="spacingAndGlyphs">03:07</text>
<path d="M1841 49h5v1h-5zM1841 97h5v1h-5zM1841 145h5v1h-5zM1841 194h5v1h-5zM1841 242h5v1h-5zM1841 290h5v1h-5zM1841 338h5v1h-5zM1841 387h5v1h-5zM1841 435h5v1h-5zM1841 483h5v1h-5zM1841 532h5v1h-5zM1841 580h5v1h-5zM1841 628h5v1h-5zM1841 676h5v1h-5zM1841 725h5v1h-5zM1841 963h5v1h-5zM1841 945h5v1h-5zM1841 928h5v1h-5zM1841 911h5v1h-5zM1841 893h5v1h-5zM1841 876h5v1h-5zM1841 859h5v1h-5zM1841 842h5v1h-5zM1841 824h5v1h-5zM1841 807h5v1h-5zM1841 790h5v1h-5zM1841 772h5v1h-5zM1841 755h5v1h-5zM32 971h1v5h-1zM89 971h1v5h-1zM147 971h1v5h-1zM204 971h1v5h-1zM262 971h1v5h-1zM319 971h1v5h-1zM377 971h1v5h-1zM434 971h1v5h-1zM492 971h1v5h-1zM549 971h1v5h-1zM606 971h1v5h-1zM664 971h1v5h-1zM721 971h1v5h-1zM779 971h1v5h-1zM836 971h1v5h-1zM894 971h1v5h-1zM951 971h1v5h-1zM1008 971h1v5h-1zM1066 971h1v5h-1zM1123 971h1v5h-1zM1181 971h1v5h-1zM1238 971h1v5h-1zM1296 971h1v5h-1zM1353 971h1v5h-1zM1411 971h1v5h-1zM1468 971h1v5h-1zM1525 971h1v5h-1zM1583 971h1v5h-1zM1640 971h1v5h-1zM1698 971h1v5h-1zM1755 971h1v5h-1zM1813 971h1v5h-1z" fill="#d2d2d2"/>
<path d="M1833.5 399.5L1840.5 391.5H1899.5V407.5H1840.5Z" fill="#3f3f45" stroke="#c8c8c8" stroke-width="1" shape-rendering="geometricPrecision"/>
<text x="1849" y="404" font-size="11.3" fill="#ffffff" textLength="44" lengthAdjust="spacingAndGlyphs">26688.75</text>
<path d="M1833.5 928.5L1840.5 920.5H1899.5V936.5H1840.5Z" fill="#3f3f45" stroke="#c8c8c8" stroke-width="1" shape-rendering="geometricPrecision"/>
<text x="1849" y="932.8" font-size="11.3" fill="#ffffff" textLength="5.8" lengthAdjust="spacingAndGlyphs">0</text>
<text x="5.3" y="759.3" font-size="11" fill="#e6e6e6" textLength="317" lengthAdjust="spacingAndGlyphs">Entropy Voltex by RenkoKings.com (NQ JUN26 (ninZaRenko 12/4))</text>
<text x="4.8" y="959.7" font-size="11" fill="#e6e6e6" textLength="117.5" lengthAdjust="spacingAndGlyphs">© 2026 NinjaTrader, LLC</text>
<text x="4.5" y="1010.7" font-size="9.5" fill="#c8c8c8" textLength="41.7" lengthAdjust="spacingAndGlyphs">NQ JUN26</text>
<text x="1786.6" y="1011.7" font-size="14.8" font-weight="bold" fill="#ff5420" textLength="111.6" lengthAdjust="spacingAndGlyphs">NINJATRADER</text>
<rect x="1881.5" y="2.5" width="16" height="17" fill="#2d2d30" stroke="#434346" stroke-width="1"/>
<text x="1889.5" y="16.6" font-size="15" fill="#e6e6e6" text-anchor="middle">F</text>
<path d="M1808 21H1825M1818 13.4L1825.6 21L1818 28.6" fill="none" stroke="#dcdcdc" stroke-width="1.9" shape-rendering="geometricPrecision"/></svg></body></html>
